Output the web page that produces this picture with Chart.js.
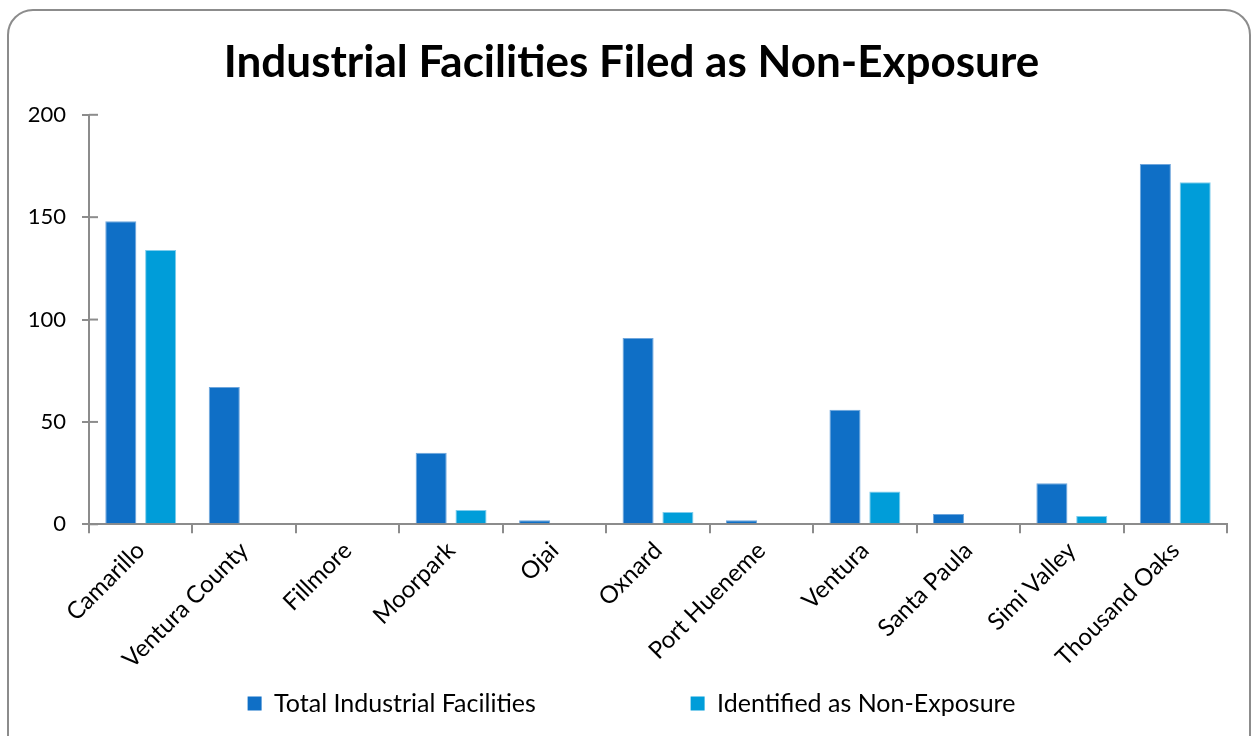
<!DOCTYPE html>
<html>
<head>
<meta charset="utf-8">
<script src="https://cdn.jsdelivr.net/npm/chart.js@4"></script>
<style>
  html, body { margin: 0; padding: 0; background: #fff; }
  #wrap { position: relative; width: 1252px; height: 736px; overflow: hidden; }
  #frame {
    position: absolute; left: 7px; top: 9px; width: 1240px; height: 760px;
    border: 2px solid #8c8c8c; border-radius: 26px; pointer-events: none;
  }
  canvas { position: absolute; left: 0; top: 0; }
</style>
</head>
<body>
<div id="wrap">
  <div id="frame"></div>
  <canvas id="facilities-chart" width="1252" height="736"></canvas>
</div>
<script>
// cities along the x axis
const cities = ["Camarillo", "Ventura County", "Fillmore", "Moorpark", "Ojai", "Oxnard",
  "Port Hueneme", "Ventura", "Santa Paula", "Simi Valley", "Thousand Oaks"];

// values
const totalFacilities = [148, 67, 0, 35, 2, 91, 2, 56, 5, 20, 176];
const nonExposure = [134, 0, 0, 7, 0, 6, 0, 16, 0, 4, 167];

const yTicks = [0, 50, 100, 150, 200];

const seriesNames = ["Total Industrial Facilities", "Identified as Non-Exposure"];

const fontFamily = "Lato, 'Open Sans', sans-serif";
const axisGray = "#8c8c8c";

// the y ticks cross the axis line a little, draw the inner half here
const crossTicks = {
  id: "crossTicks",
  afterLayout(chart) {
    // y axis box is kept narrow so title and legend sit centred like the original;
    // widen its left edge again so the tick labels are not clipped
    chart.scales.y.left = 0;
  },
  afterDraw(chart) {
    const y = chart.scales.y;
    const ctx = chart.ctx;
    ctx.save();
    ctx.strokeStyle = axisGray;
    ctx.lineWidth = 2;
    yTicks.forEach((v) => {
      const py = y.getPixelForValue(v);
      ctx.beginPath();
      ctx.moveTo(y.right, py);
      ctx.lineTo(y.right + 9, py);
      ctx.stroke();
    });
    ctx.restore();
  }
};

const canvas = document.getElementById("facilities-chart");

const facilitiesChart = new Chart(canvas, {
  type: "bar",
  data: {
    labels: cities,
    datasets: [{
      label: seriesNames[0],
      data: totalFacilities,
      backgroundColor: "#0f6fc6",
      borderColor: "#6fa6dc",
      borderWidth: 1
    }, {
      label: seriesNames[1],
      data: nonExposure,
      backgroundColor: "#009dd9",
      borderColor: "#7fcdec",
      borderWidth: 1
    }] // end datasets
  }, // end data
  plugins: [crossTicks],
  options: {
    responsive: false,
    animation: false,
    layout: { padding: { left: 36, right: 25, top: 26, bottom: 10 } },
    datasets: {
      bar: { categoryPercentage: 0.77, barPercentage: 0.78 }
    },
    plugins: {
      title: {
        display: true,
        text: "Industrial Facilities Filed as Non-Exposure",
        color: "#000",
        font: { family: fontFamily, size: 44, weight: "bold" },
        padding: { top: 10, bottom: 26 }
      },
      legend: {
        position: "bottom",
        labels: {
          color: "#000",
          font: { family: fontFamily, size: 25 },
          boxWidth: 14,
          boxHeight: 14,
          padding: 14,
          // wide gap between the two entries, like the original
          generateLabels: (chart) => {
            const items = Chart.defaults.plugins.legend.labels.generateLabels(chart);
            items.forEach((item) => { item.lineWidth = 0; });
            items[0].text = items[0].text + "\u00a0".repeat(22);
            return items;
          }
        }
      },
      tooltip: { enabled: false }
    },
    scales: {
      x: {
        grid: {
          drawOnChartArea: false,
          drawTicks: true,
          tickLength: 9,
          color: axisGray,
          lineWidth: 2
        },
        border: { color: axisGray, width: 2 },
        ticks: {
          autoSkip: false,
          minRotation: 45,
          maxRotation: 45,
          color: "#000",
          font: { family: fontFamily, size: 24 },
          padding: 3
        }
      },
      y: {
        min: 0,
        max: 200,
        afterBuildTicks: (axis) => {
          axis.ticks = yTicks.map((v) => ({ value: v }));
        },
        afterFit: (axis) => {
          axis.width = 53;
        },
        grid: {
          drawOnChartArea: false,
          drawTicks: true,
          tickLength: 7,
          color: axisGray,
          lineWidth: 2
        },
        border: { color: axisGray, width: 2 },
        ticks: {
          color: "#000",
          font: { family: fontFamily, size: 22 },
          padding: 16
        }
      }
    }
  }
});
</script>
</body>
</html>
